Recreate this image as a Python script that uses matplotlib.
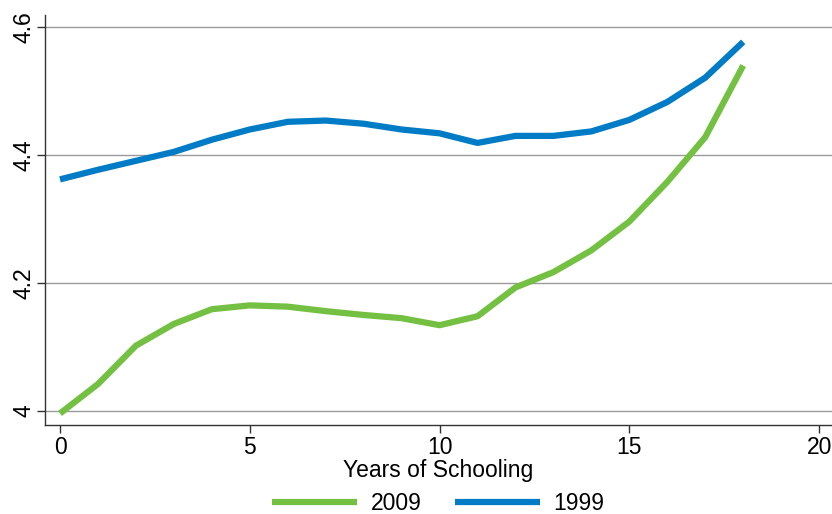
import matplotlib
matplotlib.use("Agg")
import matplotlib.pyplot as plt

plt.rcParams['font.family'] = ['Liberation Sans', 'DejaVu Sans']

years = list(range(0, 19))
y2009 = [3.996, 4.042, 4.102, 4.136, 4.159, 4.165, 4.163, 4.156, 4.150, 4.145,
         4.134, 4.148, 4.193, 4.217, 4.251, 4.296, 4.358, 4.428, 4.540]
y1999 = [4.362, 4.377, 4.391, 4.405, 4.424, 4.440, 4.452, 4.454, 4.449, 4.440,
         4.434, 4.419, 4.430, 4.430, 4.437, 4.455, 4.483, 4.521, 4.577]
xticks = [0, 5, 10, 15, 20]
yticks = [4.0, 4.2, 4.4, 4.6]
ytick_labels = ["4", "4.2", "4.4", "4.6"]

green = "#74c043"
blue = "#007bc6"

fig = plt.figure(figsize=(8.32, 5.14), dpi=100)
ax = fig.add_axes([0.0541, 0.1732, 0.9459, 0.7976])

ax.plot(years, y2009, color=green, lw=4.5, label="2009", solid_capstyle='butt')
ax.plot(years, y1999, color=blue, lw=4.5, label="1999", solid_capstyle='butt')

ax.set_xlim(-0.395, 20.34)
ax.set_ylim(3.978, 4.619)
ax.set_xticks(xticks)
ax.set_yticks(yticks)
ax.set_yticklabels(ytick_labels, rotation=90, va='center')
ax.tick_params(axis='both', labelsize=16.5, length=6, width=1, color='#333333')
ax.tick_params(axis='x', pad=2)
ax.tick_params(axis='y', pad=1)
ax.grid(axis='y', color='#9a9a9a', lw=1)
ax.set_axisbelow(True)
for s in ['top', 'right']:
    ax.spines[s].set_visible(False)
for s in ['left', 'bottom']:
    ax.spines[s].set_color('#333333')
    ax.spines[s].set_linewidth(1)

ax.set_xlabel("Years of Schooling", fontsize=16.5, labelpad=0)

# legend centred on the plot region, near bottom of figure
ax_pos = ax.get_position()
leg_y = (0.0 - ax_pos.y0) / ax_pos.height
ax.legend(loc='lower center', bbox_to_anchor=(0.5, leg_y - 0.026), ncol=2, frameon=False,
          fontsize=16.5, handlelength=3.7, columnspacing=1.45, handletextpad=0.6,
          borderaxespad=0)

fig.savefig("out.png", dpi=100)
